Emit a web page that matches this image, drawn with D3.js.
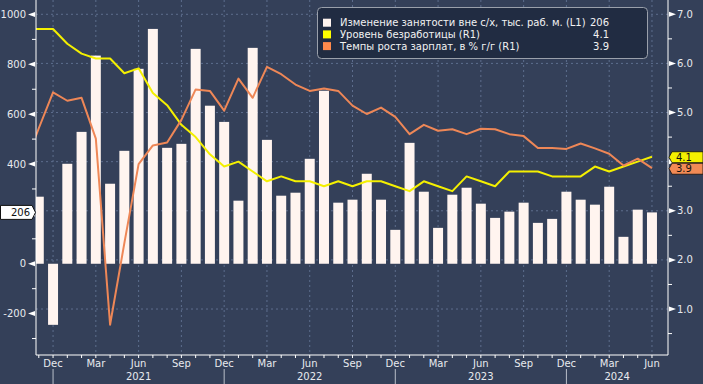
<!DOCTYPE html>
<html>
<head>
<meta charset="utf-8">
<script src="https://cdn.jsdelivr.net/npm/d3@7"></script>
<style>
  body { margin: 0; background: #344059; }
  svg { display: block; font-family: "DejaVu Sans", Verdana, sans-serif; }
</style>
</head>
<body>
<div id="chart"></div>
<script>
// months from Oct 2020 to Jun 2024 (Oct 2020 only feeds the lines, it sits left of the axis)
const months = d3.timeMonth.range(new Date(2020, 9, 1), new Date(2024, 6, 1));

// nonfarm payrolls change, thousands (Nov 2020 .. Jun 2024)
const payrolls = [269, -245,
  401, 529, 835, 321, 453, 782, 942, 465, 481, 862, 634, 569,
  253, 866, 497, 273, 285, 421, 694, 245, 257, 361, 257, 136,
  485, 289, 144, 277, 305, 241, 184, 209, 245, 164, 180, 289,
  257, 237, 309, 108, 217, 206];

// unemployment rate, % (Oct 2020 .. Jun 2024)
const unemployment = [6.7, 6.7, 6.7,
  6.4, 6.2, 6.1, 6.1, 5.8, 5.9, 5.4, 5.15, 4.75, 4.5, 4.15, 3.9,
  4.0, 3.8, 3.6, 3.7, 3.6, 3.6, 3.5, 3.6, 3.5, 3.6, 3.6, 3.5,
  3.4, 3.6, 3.5, 3.4, 3.7, 3.6, 3.5, 3.8, 3.8, 3.8, 3.7, 3.7,
  3.7, 3.9, 3.8, 3.9, 4.0, 4.1];

// wage growth, % y/y (Oct 2020 .. Jun 2024)
const wages = [3.93, 4.68, 5.41,
  5.24, 5.30, 4.47, 0.68, 2.34, 3.95, 4.33, 4.39, 4.85, 5.47, 5.44, 5.04,
  5.69, 5.30, 5.93, 5.78, 5.57, 5.44, 5.49, 5.44, 5.14, 4.97, 5.10, 4.91,
  4.56, 4.75, 4.63, 4.66, 4.56, 4.67, 4.66, 4.56, 4.52, 4.28, 4.28, 4.26,
  4.37, 4.27, 4.16, 3.92, 4.06, 3.87];

const leftTicks = [1000, 800, 600, 400, 200, 0, -200];
const leftMinor = [900, 700, 500, 300, 100, -100, -300];
const rightTicks = [7, 6, 5, 4, 3, 2, 1];
const rightMinor = [6.5, 5.5, 4.5, 3.5, 2.5, 1.5, 0.5];
const monthNames = ["Jan", "Feb", "Mar", "Apr", "May", "Jun", "Jul", "Aug", "Sep", "Oct", "Nov", "Dec"];
const years = [2021, 2022, 2023, 2024];

const legendNames = [
  "Изменение занятости вне с/х, тыс. раб. м. (L1)",
  "Уровень безработицы (R1)",
  "Темпы роста зарплат, в % г/г (R1)"
];
const legendValues = ["206", "4.1", "3.9"];

const barColor = "#fff4ef";
const yellow = "#f4f000";
const orange = "#ee8757";
const fontSize = "10px";

const width = 703, height = 384;
const plot = { left: 36, right: 668, top: 0, bottom: 355 };

const svg = d3.select("#chart").append("svg")
  .attr("width", width)
  .attr("height", height);

svg.append("rect").attr("width", width).attr("height", height).attr("fill", "#344059");

svg.append("clipPath").attr("id", "clip")
  .append("rect")
  .attr("x", plot.left).attr("y", plot.top)
  .attr("width", plot.right - plot.left).attr("height", plot.bottom - plot.top);

// scales
const x = d3.scaleBand()
  .domain(months)
  .range([17.4, 659.1])
  .paddingInner(0.3)
  .paddingOuter(0.15);
const cx = d => x(d) + x.bandwidth() / 2;

const yL = d3.scaleLinear().domain([-366, 1058]).range([plot.bottom, plot.top]);
const yR = d3.scaleLinear().domain([0.064, 7.291]).range([plot.bottom, plot.top]);

const gridColor = "#5d6d8d";

// vertical grid at quarter months
const quarterMonths = months.filter(d => [11, 2, 5, 8].includes(d.getMonth()));
svg.append("g").selectAll("line")
  .data(quarterMonths)
  .join("line")
  .attr("x1", d => cx(d)).attr("x2", d => cx(d))
  .attr("y1", plot.top).attr("y2", plot.bottom)
  .attr("stroke", gridColor).attr("stroke-dasharray", "2,3");

// horizontal grid from the right axis
svg.append("g").selectAll("line")
  .data(rightTicks)
  .join("line")
  .attr("x1", plot.left).attr("x2", plot.right)
  .attr("y1", d => yR(d)).attr("y2", d => yR(d))
  .attr("stroke", gridColor).attr("stroke-dasharray", "2,3");

const plotArea = svg.append("g").attr("clip-path", "url(#clip)");

// bars
const barData = payrolls.map((v, i) => ({ month: months[i + 1], value: v }));
plotArea.selectAll(".bar")
  .data(barData)
  .join("rect")
  .attr("class", "bar")
  .attr("x", d => x(d.month))
  .attr("width", x.bandwidth())
  .attr("y", d => yL(Math.max(0, d.value)))
  .attr("height", d => Math.abs(yL(d.value) - yL(0)))
  .attr("fill", barColor);

// lines
const line = d3.line()
  .x((d, i) => cx(months[i]))
  .y(d => yR(d));

plotArea.append("path")
  .datum(unemployment)
  .attr("d", line)
  .attr("fill", "none")
  .attr("stroke", yellow)
  .attr("stroke-width", 2)
  .attr("stroke-linejoin", "round");

plotArea.append("path")
  .datum(wages)
  .attr("d", line)
  .attr("fill", "none")
  .attr("stroke", orange)
  .attr("stroke-width", 2)
  .attr("stroke-linejoin", "round");

// axis lines
const axisColor = "#ffffff";
svg.append("line").attr("x1", plot.left).attr("x2", plot.left).attr("y1", plot.top).attr("y2", plot.bottom).attr("stroke", axisColor);
svg.append("line").attr("x1", plot.right).attr("x2", plot.right).attr("y1", plot.top).attr("y2", plot.bottom).attr("stroke", axisColor);
svg.append("line").attr("x1", plot.left).attr("x2", plot.right).attr("y1", plot.bottom).attr("y2", plot.bottom).attr("stroke", axisColor);

const labelColor = "#e8eaee";

// last values, their tags hide the tick labels underneath
const lastBar = payrolls[payrolls.length - 1];
const lastRate = unemployment[unemployment.length - 1];
const lastWage = wages[wages.length - 1];

// left axis
const left = svg.append("g");
left.selectAll("path")
  .data(leftTicks)
  .join("path")
  .attr("d", d => `M${plot.left - 1},${yL(d) - 2.5}L${plot.left - 8},${yL(d)}L${plot.left - 1},${yL(d) + 2.5}Z`)
  .attr("fill", "#ffffff");
left.selectAll("text")
  .data(leftTicks.filter(d => Math.abs(yL(d) - yL(lastBar)) > 10))
  .join("text")
  .attr("x", plot.left - 10)
  .attr("y", d => yL(d))
  .attr("dy", "0.35em")
  .attr("text-anchor", "end")
  .attr("fill", labelColor)
  .style("font-size", fontSize)
  .text(d => d);
left.selectAll("line")
  .data(leftMinor)
  .join("line")
  .attr("x1", plot.left - 4).attr("x2", plot.left)
  .attr("y1", d => yL(d)).attr("y2", d => yL(d))
  .attr("stroke", "#ffffff");

// right axis
const right = svg.append("g");
right.selectAll("path")
  .data(rightTicks)
  .join("path")
  .attr("d", d => `M${plot.right + 1},${yR(d) - 2.5}L${plot.right + 8},${yR(d)}L${plot.right + 1},${yR(d) + 2.5}Z`)
  .attr("fill", "#ffffff");
right.selectAll("text")
  .data(rightTicks.filter(d => Math.abs(yR(d) - yR(lastRate)) > 10 && Math.abs(yR(d) - yR(lastWage)) > 10))
  .join("text")
  .attr("x", plot.right + 9)
  .attr("y", d => yR(d))
  .attr("dy", "0.35em")
  .attr("fill", labelColor)
  .style("font-size", fontSize)
  .text(d => d.toFixed(1));
right.selectAll("line")
  .data(rightMinor)
  .join("line")
  .attr("x1", plot.right).attr("x2", plot.right + 4)
  .attr("y1", d => yR(d)).attr("y2", d => yR(d))
  .attr("stroke", "#ffffff");

// bottom axis
const bottom = svg.append("g");
bottom.selectAll("line.tick")
  .data(months.filter(d => cx(d) > plot.left && cx(d) < plot.right))
  .join("line")
  .attr("class", "tick")
  .attr("x1", d => cx(d)).attr("x2", d => cx(d))
  .attr("y1", plot.bottom).attr("y2", plot.bottom + 3)
  .attr("stroke", "#ffffff");
bottom.selectAll("text.month")
  .data(quarterMonths)
  .join("text")
  .attr("class", "month")
  .attr("x", d => cx(d))
  .attr("y", plot.bottom + 12)
  .attr("text-anchor", "middle")
  .attr("fill", labelColor)
  .style("font-size", fontSize)
  .text(d => monthNames[d.getMonth()]);

// year separators at December and year labels between them
const decembers = months.filter(d => d.getMonth() === 11);
bottom.selectAll("line.sep")
  .data(decembers)
  .join("line")
  .attr("class", "sep")
  .attr("x1", d => cx(d)).attr("x2", d => cx(d))
  .attr("y1", plot.bottom + 14).attr("y2", height)
  .attr("stroke", "#b9bec8");
bottom.selectAll("text.year")
  .data(years)
  .join("text")
  .attr("class", "year")
  .attr("x", (d, i) => {
    const start = cx(decembers[i]);
    const end = decembers[i + 1] ? cx(decembers[i + 1]) : plot.right;
    return (start + end) / 2;
  })
  .attr("y", plot.bottom + 25)
  .attr("text-anchor", "middle")
  .attr("fill", labelColor)
  .style("font-size", fontSize)
  .text(d => d);

// last value tags
const tagY = yL(lastBar);
svg.append("path")
  .attr("d", `M0.5,${tagY - 7}H32L35.5,${tagY}L32,${tagY + 7}H0.5Z`)
  .attr("fill", "#ffffff").attr("stroke", "#111111");
svg.append("text")
  .attr("x", 30).attr("y", tagY).attr("dy", "0.35em")
  .attr("text-anchor", "end")
  .style("font-size", fontSize)
  .attr("fill", "#111111")
  .text(lastBar);

const yTagY = yR(lastRate) + 0.5;
const oTagY = Math.max(yR(lastWage), yTagY + 11.5);
[[yTagY, yellow, legendValues[1]], [oTagY, "#f28a55", legendValues[2]]].forEach(([ty, fill, label]) => {
  svg.append("path")
    .attr("d", `M${plot.right + 1},${ty}L${plot.right + 4},${ty - 5.5}H${width}V${ty + 5.5}H${plot.right + 4}Z`)
    .attr("fill", fill).attr("stroke", "#111111").attr("stroke-width", 0.8);
  svg.append("text")
    .attr("x", plot.right + 8).attr("y", ty).attr("dy", "0.36em")
    .style("font-size", fontSize)
    .attr("fill", "#111111")
    .text(label);
});

// legend
const legend = svg.append("g");
legend.append("rect")
  .attr("x", 317.5).attr("y", 7.5)
  .attr("width", 330).attr("height", 51)
  .attr("rx", 4)
  .attr("fill", "#212c42")
  .attr("stroke", "#9aa0ab");
const legendColors = [barColor, "#ffff00", "#ff8a4c"];
const rows = legend.selectAll("g")
  .data(legendNames)
  .join("g")
  .attr("transform", (d, i) => `translate(323,${22.7 + i * 11.7})`);
rows.append("rect")
  .attr("y", -4).attr("width", 8).attr("height", 8)
  .attr("fill", (d, i) => legendColors[i]);
rows.append("text")
  .attr("x", 17).attr("dy", "0.35em")
  .attr("fill", "#f2f2f2")
  .style("font-size", fontSize)
  .text(d => d);
rows.append("text")
  .attr("x", 286).attr("dy", "0.35em")
  .attr("text-anchor", "end")
  .attr("fill", "#f2f2f2")
  .style("font-size", fontSize)
  .text((d, i) => legendValues[i]);
</script>
</body>
</html>
